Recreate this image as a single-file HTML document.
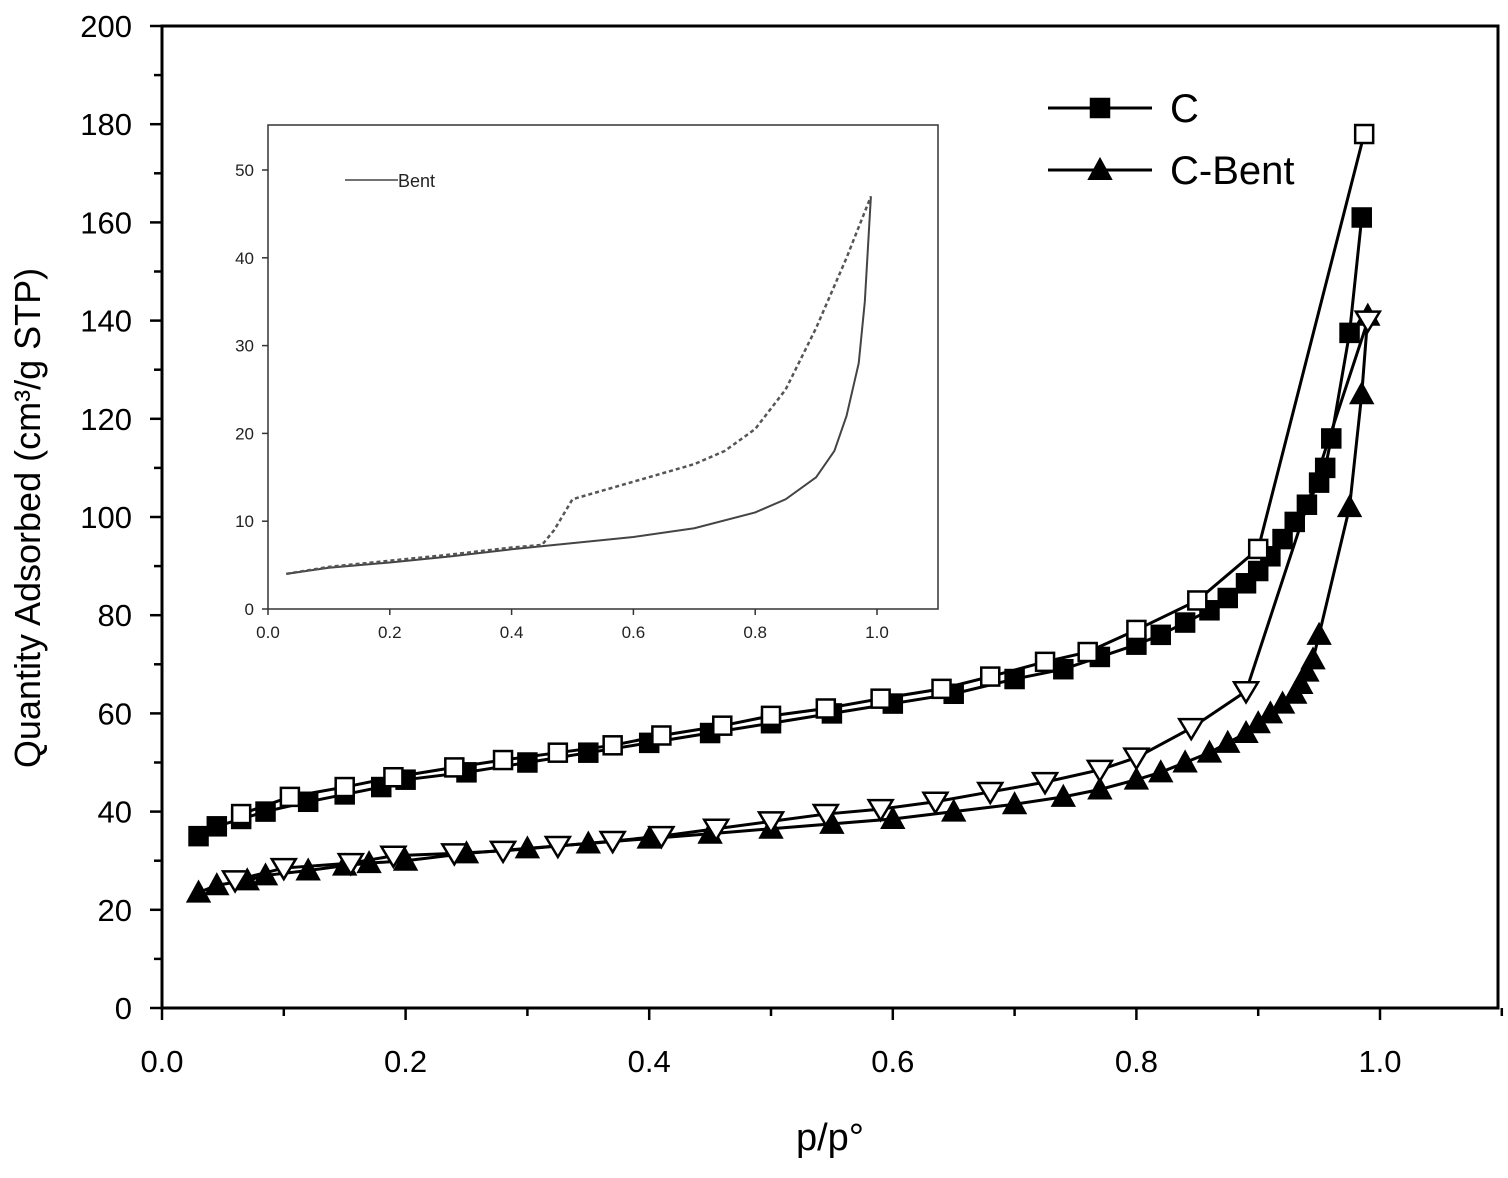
<!DOCTYPE html>
<html><head><meta charset="utf-8">
<style>
html,body{margin:0;padding:0;background:#fff;}
svg{display:block;font-family:"Liberation Sans",Arial,sans-serif;}
</style></head>
<body>
<svg id="chart" width="1508" height="1178" viewBox="0 0 1508 1178" xmlns="http://www.w3.org/2000/svg">
<rect x="0" y="0" width="1508" height="1178" fill="#fff"/>
<g id="main"></g>
<g id="inset"></g>
</svg>
<script>
// ---- Main chart data ----
const cAdsX = [0.03,0.045,0.065,0.085,0.12,0.15,0.18,0.20,0.25,0.30,0.35,0.40,0.45,0.50,0.55,0.60,0.65,0.70,0.74,0.77,0.80,0.82,0.84,0.86,0.875,0.89,0.90,0.91,0.92,0.93,0.94,0.95,0.955,0.96,0.975,0.985];
const cAdsY = [35,37,38.5,40,42,43.5,45,46.5,48,50,52,54,56,58,60,62,64,67,69,71.5,74,76,78.5,81,83.5,86.5,89,92,95.5,99,102.5,107,110,116,137.5,161];
const cDesX = [0.987,0.90,0.85,0.80,0.76,0.725,0.68,0.64,0.59,0.545,0.50,0.46,0.41,0.37,0.325,0.28,0.24,0.19,0.15,0.105,0.065];
const cDesY = [178,93.5,83,77,72.5,70.5,67.5,65,63,61,59.5,57.5,55.5,53.5,52,50.5,49,47,45,43,39.5];
const bAdsX = [0.03,0.045,0.07,0.085,0.12,0.15,0.17,0.20,0.25,0.30,0.35,0.40,0.45,0.50,0.55,0.60,0.65,0.70,0.74,0.77,0.80,0.82,0.84,0.86,0.875,0.89,0.90,0.91,0.92,0.93,0.935,0.94,0.945,0.95,0.975,0.985,0.99];
const bAdsY = [23.5,25,26,27,28,29,29.5,30,31.5,32.5,33.5,34.5,35.5,36.5,37.5,38.5,40,41.5,43,44.5,46.5,48,50,52,54,56,58,60,62,64,66,68.5,71,76,102,125,141];
const bDesX = [0.99,0.89,0.845,0.80,0.77,0.725,0.68,0.635,0.59,0.545,0.50,0.455,0.41,0.37,0.325,0.28,0.24,0.19,0.155,0.10,0.06];
const bDesY = [140,64.5,57,51,48.5,46,44,42,40.5,39.5,38,36.5,35,34,33,32,31.5,31,29.5,28.5,26];
const xTicks = [0.0,0.2,0.4,0.6,0.8,1.0];
const xTickLabels = ["0.0","0.2","0.4","0.6","0.8","1.0"];
const yTicks = [0,20,40,60,80,100,120,140,160,180,200];
const yTickLabels = ["0","20","40","60","80","100","120","140","160","180","200"];
// ---- Inset data ----
const insAdsX = [0.03,0.1,0.2,0.3,0.4,0.5,0.6,0.7,0.8,0.85,0.9,0.93,0.95,0.97,0.98,0.99];
const insAdsY = [4,4.7,5.3,6.0,6.8,7.5,8.2,9.2,11,12.5,15,18,22,28,35,47];
const insDesX = [0.03,0.1,0.2,0.3,0.4,0.45,0.47,0.5,0.55,0.6,0.7,0.75,0.8,0.85,0.9,0.95,0.99];
const insDesY = [4,4.8,5.5,6.2,7.0,7.3,9,12.5,13.5,14.5,16.5,18,20.5,25,32,40,47];
const insXTicks = [0.0,0.2,0.4,0.6,0.8,1.0];
const insXTickLabels = ["0.0","0.2","0.4","0.6","0.8","1.0"];
const insYTicks = [0,10,20,30,40,50];
const insYTickLabels = ["0","10","20","30","40","50"];

const NS="http://www.w3.org/2000/svg";
function mk(parent,tag,attrs,text){const e=document.createElementNS(NS,tag);for(const k in attrs)e.setAttribute(k,attrs[k]);if(text!==undefined)e.textContent=text;parent.appendChild(e);return e;}

const X=v=>162+v*1218, Y=v=>1008-v*4.91;
const main=document.getElementById('main');
// frame
let fr=mk(main,'rect',{x:162,y:26,width:1336,height:982,fill:'none',stroke:'#000','stroke-width':3});


// minor ticks x
for(let i=0;i<=11;i++){let t=mk(main,'line',{x1:X(i*0.1),x2:X(i*0.1),y1:1008,y2:i%2?1016:1020,stroke:'#000','stroke-width':2.5});

}
for(let i=0;i<=20;i++){let t=mk(main,'line',{x1:162,x2:i%2?154:150,y1:Y(i*10),y2:Y(i*10),stroke:'#000','stroke-width':2.5});

}
xTicks.forEach((v,i)=>{let t=mk(main,'text',{x:X(v),y:1072,'font-size':31,'text-anchor':'middle'},xTickLabels[i]);

});
yTicks.forEach((v,i)=>{let t=mk(main,'text',{x:132,y:Y(v)+11,'font-size':31,'text-anchor':'end'},yTickLabels[i]);

});
let xt=mk(main,'text',{x:830,y:1150,'font-size':38,'text-anchor':'middle'},'p/p°');


let yt=mk(main,'text',{x:0,y:0,'font-size':36,'text-anchor':'middle',transform:'translate(40,518) rotate(-90)'},'Quantity Adsorbed (cm³/g STP)');



function marker(g,type,cx,cy,name){
  let e;const s=9;
  if(type==='sqf'||type==='sqo') e=mk(g,'rect',{x:cx-s,y:cy-s,width:2*s,height:2*s,fill:type==='sqf'?'#000':'#fff',stroke:'#000','stroke-width':2.5});
  else if(type==='tri') e=mk(g,'polygon',{points:`${cx},${cy-11} ${cx+11},${cy+9} ${cx-11},${cy+9}`,fill:'#000',stroke:'#000','stroke-width':2});
  else e=mk(g,'polygon',{points:`${cx},${cy+11} ${cx+12},${cy-9} ${cx-12},${cy-9}`,fill:'#fff',stroke:'#000','stroke-width':2.5});
  
  
}
function series(xs,ys,type,name){
  const g=mk(main,'g',{});
  
  
  let l=mk(g,'polyline',{points:xs.map((x,i)=>X(x)+','+Y(ys[i])).join(' '),fill:'none',stroke:'#000','stroke-width':3});
  
  
  xs.forEach((x,i)=>marker(g,type,X(x),Y(ys[i]),name+'-point'));
}
series(cAdsX,cAdsY,'sqf','c-adsorption');
series(bAdsX,bAdsY,'tri','c-bent-adsorption');
series(cDesX,cDesY,'sqo','c-desorption');
series(bDesX,bDesY,'dtri','c-bent-desorption');

// legend
const lg=mk(main,'g',{});


mk(lg,'line',{x1:1048,x2:1152,y1:108,y2:108,stroke:'#000','stroke-width':3});
marker(lg,'sqf',1100,108,'legend-c-marker');
let l1=mk(lg,'text',{x:1170,y:122,'font-size':40},'C');


mk(lg,'line',{x1:1048,x2:1152,y1:170,y2:170,stroke:'#000','stroke-width':3});
marker(lg,'tri',1100,170,'legend-c-bent-marker');
let l2=mk(lg,'text',{x:1170,y:184,'font-size':40},'C-Bent');



// inset
const IX=v=>268+v*609, IY=v=>609-v*8.78;
const ins=document.getElementById('inset');


mk(ins,'rect',{x:268,y:125,width:670,height:484,fill:'#fff',stroke:'#333','stroke-width':1.5});
insXTicks.forEach((v,i)=>{
  mk(ins,'line',{x1:IX(v),x2:IX(v),y1:609,y2:615,stroke:'#333','stroke-width':1.5});
  let t=mk(ins,'text',{x:IX(v),y:638,'font-size':17,'text-anchor':'middle',fill:'#222'},insXTickLabels[i]);
  
  });
insYTicks.forEach((v,i)=>{
  mk(ins,'line',{x1:268,x2:262,y1:IY(v),y2:IY(v),stroke:'#333','stroke-width':1.5});
  let t=mk(ins,'text',{x:254,y:IY(v)+6,'font-size':17,'text-anchor':'end',fill:'#222'},insYTickLabels[i]);
  
  });
let ia=mk(ins,'polyline',{points:insAdsX.map((x,i)=>IX(x)+','+IY(insAdsY[i])).join(' '),fill:'none',stroke:'#444','stroke-width':2});


let id=mk(ins,'polyline',{points:insDesX.map((x,i)=>IX(x)+','+IY(insDesY[i])).join(' '),fill:'none',stroke:'#555','stroke-width':2.5,'stroke-dasharray':'4,3'});


mk(ins,'line',{x1:345,x2:398,y1:180,y2:180,stroke:'#444','stroke-width':1.5});
let il=mk(ins,'text',{x:398,y:187,'font-size':18,fill:'#222'},'Bent');


</script>
</body></html>
